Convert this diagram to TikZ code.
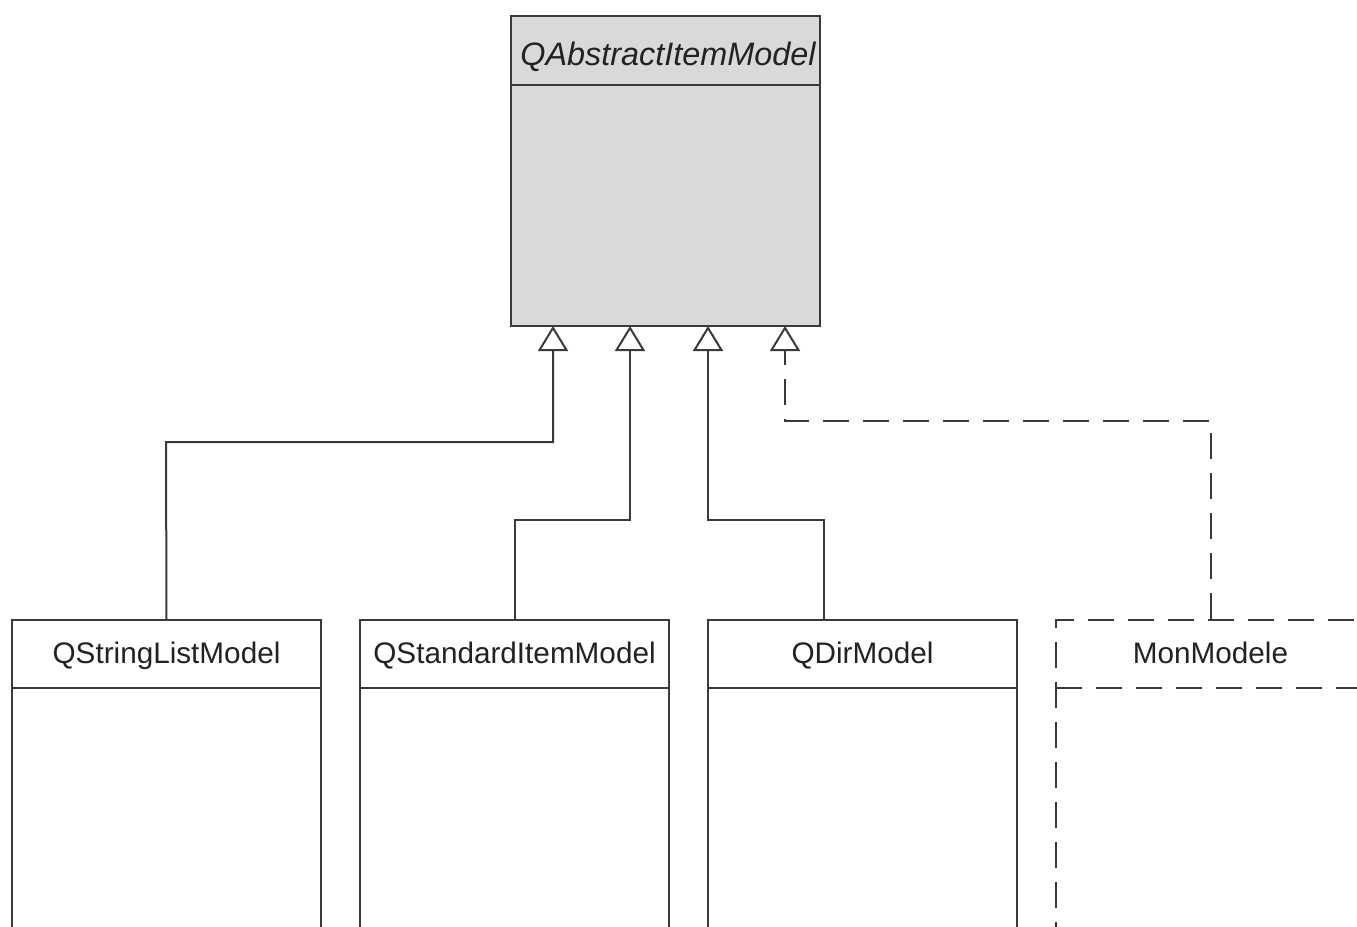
\documentclass[tikz,border=0pt]{standalone}
\usepackage{fontspec}
\setmainfont{Liberation Sans}
\usetikzlibrary{arrows.meta}
\definecolor{boxfill}{HTML}{D9D9D9}
\definecolor{linec}{HTML}{3A3A3A}
\definecolor{textc}{HTML}{222222}
\tikzset{
  classbox/.style={draw=linec, line width=1pt, rectangle, inner sep=0pt, minimum width=154.5pt},
  ifacebox/.style={classbox, dash pattern=on 13pt off 7pt},
  label/.style={inner sep=0pt, anchor=base, text=textc, font=\fontsize{14.85pt}{17pt}\selectfont},
  toplabel/.style={inner sep=0pt, anchor=base, text=textc, font=\fontsize{16.2pt}{19pt}\selectfont\itshape},
  divider/.style={draw=linec, line width=1pt},
  inherit/.style={draw=linec, line width=1pt, -{Triangle[open, length=12.5pt, width=15pt, line width=1pt]}},
  realize/.style={inherit, dash pattern=on 13pt off 7pt}
}
\begin{document}
\begin{tikzpicture}[x=0.5pt,y=-0.5pt]
\useasboundingbox (0,0) rectangle (1357,927);
\clip (0,0) rectangle (1357,927);
\fill[white] (0,0) rectangle (1357,927);
% parent
\node[classbox, fill=boxfill, minimum height=155pt] (base) at (665.5,171) {};
\draw[divider] (511,85) -- (820,85);
\begin{scope}
\clip (512,17) rectangle (819,84);
\node[toplabel] (baseT) at (668,65) {QAbstractItemModel};
\end{scope}
% children
\node[classbox, minimum height=200pt] (sl) at (166.5,820) {};
\node[classbox, minimum height=200pt] (st) at (514.5,820) {};
\node[classbox, minimum height=200pt] (dm) at (862.5,820) {};
\node[ifacebox, minimum height=200pt] (mm) at (1210.5,820) {};
\draw[divider] (12,688) -- (321,688);
\draw[divider] (360,688) -- (669,688);
\draw[divider] (708,688) -- (1017,688);
\draw[divider, dash pattern=on 13pt off 7pt] (1056,688) -- (1365,688);
\node[label] (slT) at (166.5,663) {QStringListModel};
\node[label] (stT) at (514.5,663) {QStandardItemModel};
\node[label] (dmT) at (862.5,663) {QDirModel};
\node[label] (mmT) at (1210.5,663) {MonModele};
% connector ends on parent
\coordinate (p1) at (553,326);
\coordinate (p2) at (630,326);
\coordinate (p3) at (708,326);
\coordinate (p4) at (785,326);
\coordinate (c3) at (824,620);
% connectors
\draw[inherit] (sl.north) -- (166,442) -| (p1);
\draw[inherit] (st.north) -- (514.5,520) -| (p2);
\draw[inherit] (c3) -- (824,520) -| (p3);
\draw[realize] (mm.north) -- (1210.5,421) -| (p4);
\end{tikzpicture}
\end{document}
